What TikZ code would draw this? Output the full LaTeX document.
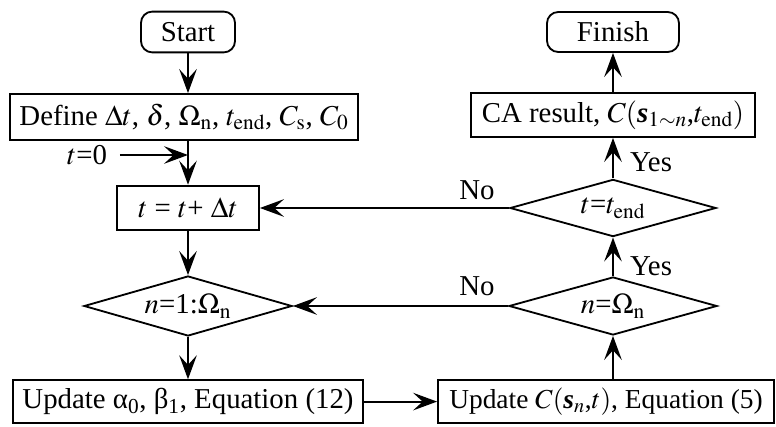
\documentclass[tikz,border=0pt]{standalone}
\usepackage{mathptmx}
\usepackage{fontspec}
\setmainfont{Liberation Serif}
\usetikzlibrary{shapes.geometric,arrows.meta}

\tikzset{
    every node/.style={font=\fontsize{20.5}{24}\selectfont},
    box/.style={draw, line width=1.3pt, inner sep=0pt},
    term/.style={box, rounded corners=8pt},
    test/.style={draw, line width=1.3pt, diamond, aspect=3.6, inner sep=0pt},
    arr/.style={line width=1.3pt, -{Stealth[length=6mm, width=4.4mm, inset=2.4mm]}}
}

\begin{document}
\begin{tikzpicture}
    \useasboundingbox (0,0) rectangle (19.4,10.65);

    % Left column
    \node[term, minimum width=2.35cm, minimum height=1.02cm] (start) at (4.7,9.85) {Start};
    \node[box, minimum width=8.7cm, minimum height=1.15cm] (define) at (4.6,7.725)
        {Define $\Delta t$, $\delta$, $\Omega_{\mathrm{n}}$, $t_{\mathrm{end}}$, $C_{\mathrm{s}}$, $C_0$};
    \node (tzero) at (2.175,6.775) {$t$=0};
    \node[box, minimum width=3.55cm, minimum height=1.12cm] (tstep) at (4.7,5.45) {$t$ = $t$+ $\Delta t$};
    \node[test, minimum width=5.2cm, minimum height=1.5cm] (loopn) at (4.7,3.0) {$n$=1:$\Omega_{\mathrm{n}}$};
    \node[box, minimum width=8.75cm, minimum height=1.07cm] (upda) at (4.7,0.61)
        {Update α\textsubscript{0}, β\textsubscript{1}, Equation (12)};

    % Right column
    \node[term, minimum width=3.3cm, minimum height=1.0cm] (finish) at (15.325,9.85) {Finish};
    \node[box, minimum width=7.1cm, minimum height=1.1cm] (result) at (15.325,7.775)
        {CA result, $C($\textbf{\textit{s}}$_{1\sim n}$,$t_{\mathrm{end}})$};
    \node[test, minimum width=5.15cm, minimum height=1.43cm] (tend) at (15.325,5.45) {$t$=$t_{\mathrm{end}}$};
    \node[test, minimum width=5.2cm, minimum height=1.45cm] (nomega) at (15.325,3.0) {$n$=$\Omega_{\mathrm{n}}$};
    \node[box, minimum width=8.4cm, minimum height=1.07cm, font=\fontsize{19.5}{23}\selectfont] (updc) at (15.15,0.61)
        {Update $C($\textbf{\textit{s}}$_{n}$,$t)$, Equation (5)};

    % Labels
    \node (no1) at (11.925,5.9) {No};
    \node (no2) at (11.925,3.5) {No};
    \node (yes1) at (16.275,6.6) {Yes};
    \node (yes2) at (16.275,4.0) {Yes};

    % Connectors
    \draw[arr] (start) -- (start |- define.north);
    \draw[arr] (start |- define.south) -- (tstep.north);
    \draw[arr] ([xshift=2mm]tzero.east) -- (tzero -| tstep.north);
    \draw[arr] (tstep) -- (loopn);
    \draw[arr] (loopn) -- (upda.north -| loopn);
    \draw[arr] (upda) -- (updc);
    \draw[arr] (updc.north -| nomega) -- (nomega);
    \draw[arr] (nomega) -- (tend);
    \draw[arr] (tend) -- (result);
    \draw[arr] (result) -- (finish);
    \draw[arr] (tend) -- (tstep);
    \draw[arr] (nomega) -- (loopn);
\end{tikzpicture}
\end{document}
